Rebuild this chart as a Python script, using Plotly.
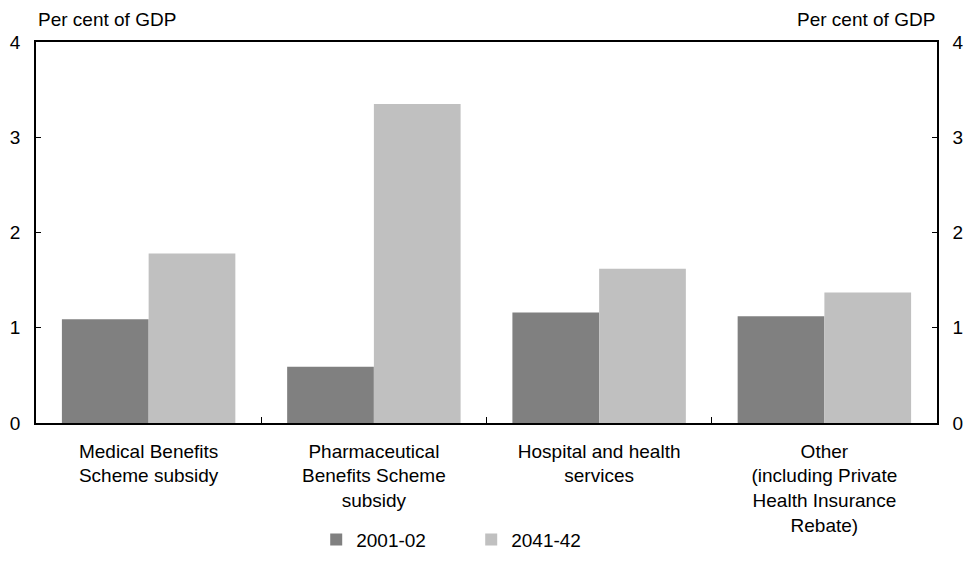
import plotly.graph_objects as go

categories = [
    "Medical Benefits<br>Scheme subsidy",
    "Pharmaceutical<br>Benefits Scheme<br>subsidy",
    "Hospital and health<br>services",
    "Other<br>(including Private<br>Health Insurance<br>Rebate)",
]
series_names = ["2001-02", "2041-42"]
values_2001 = [1.09, 0.59, 1.16, 1.12]
values_2041 = [1.78, 3.35, 1.62, 1.37]
colors = ["#808080", "#c0c0c0"]
y_ticks = [0, 1, 2, 3, 4]
axis_title = "Per cent of GDP"

FONT = "Liberation Sans, Arial, sans-serif"
FS = 19

fig = go.Figure()
for name, vals, col in zip(series_names, [values_2001, values_2041], colors):
    fig.add_trace(go.Bar(x=categories, y=vals, name=name,
                         marker=dict(color=col, line=dict(width=0))))

fig.update_layout(
    width=965, height=577,
    margin=dict(l=36, r=28, t=42, b=154, autoexpand=False),
    paper_bgcolor="white", plot_bgcolor="white",
    font=dict(family=FONT, size=FS, color="black"),
    barmode="group", bargap=0.23, bargroupgap=0,
    showlegend=True,
    legend=dict(orientation="h", x=0.311, xanchor="left", y=-0.256, yanchor="top",
                font=dict(size=FS), entrywidth=110, entrywidthmode="pixels",
                itemwidth=30, tracegroupgap=0),
    xaxis=dict(showline=True, linecolor="black", linewidth=1.5, mirror=True,
               ticks="inside", tickson="boundaries", ticklen=6, tickcolor="black",
               showgrid=False, tickfont=dict(size=FS), ticklabelstandoff=10),
    yaxis=dict(range=[0, 4], tickvals=y_ticks, showline=True, linecolor="black",
               linewidth=1.5, ticks="inside", ticklen=5, tickcolor="black",
               showgrid=False, zeroline=False, tickfont=dict(size=FS),
               ticklabelstandoff=10),
    yaxis2=dict(range=[0, 4], tickvals=y_ticks, overlaying="y", side="right",
                showline=True, linecolor="black", linewidth=1.5, ticks="inside",
                ticklen=5, tickcolor="black", showgrid=False, zeroline=False,
                tickfont=dict(size=FS), ticklabelstandoff=10),
    annotations=[
        dict(text=axis_title, xref="paper", yref="paper", x=0, y=1, xanchor="left",
             yanchor="bottom", yshift=10, showarrow=False, font=dict(size=FS)),
        dict(text=axis_title, xref="paper", yref="paper", x=1, y=1, xanchor="right",
             yanchor="bottom", yshift=10, showarrow=False, font=dict(size=FS)),
    ],
)
fig.add_trace(go.Scatter(x=[categories[0]], y=[None], yaxis="y2", showlegend=False,
                         hoverinfo="skip"))

fig.write_html("out.html", config={"displayModeBar": False},
               post_script="document.body.style.margin='0px';")
